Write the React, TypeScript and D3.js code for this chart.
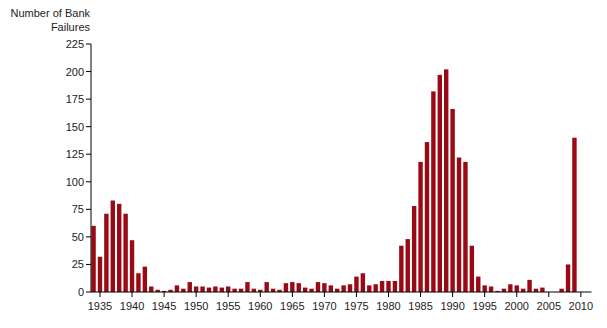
import { useEffect, useRef } from "react"
import * as d3 from "d3"

const years = d3.range(1934, 2010)
const failures = [
  60, 32, 71, 83, 80, 71, 47, 17, 23, 5, // 1934-1943
  2, 1, 2, 6, 3, 9, 5, 5, 4, 5, // 1944-1953
  4, 5, 3, 3, 9, 3, 2, 9, 3, 2, // 1954-1963
  8, 9, 8, 4, 3, 9, 8, 6, 3, 6, // 1964-1973
  7, 14, 17, 6, 7, 10, 10, 10, 42, 48, // 1974-1983
  78, 118, 136, 182, 197, 202, 166, 122, 118, 42, // 1984-1993
  14, 6, 5, 1, 3, 7, 6, 3, 11, 3, // 1994-2003
  4, 0, 0, 3, 25, 140, // 2004-2009
]
const yTicks = [0, 25, 50, 75, 100, 125, 150, 175, 200, 225]
const xTicks = d3.range(1935, 2011, 5)

const W = 607
const H = 328
const FONT = "'Liberation Sans', Arial, Helvetica, sans-serif"

export default function App() {
  const ref = useRef<SVGSVGElement>(null)

  useEffect(() => {
    const svg = d3.select(ref.current)
    svg.selectAll("*").remove()

    const x = d3.scaleLinear().domain([1933.6, 2011.66]).range([91, 591.5])
    const y = d3.scaleLinear().domain([0, 225]).range([292, 44])
    const barW = 4.4

    // bars
    svg.append("g")
      .selectAll("rect")
      .data(years.map((yr, i) => ({ yr, v: failures[i] })).filter((d) => d.v > 0))
      .enter()
      .append("rect")
      .attr("x", (d) => x(d.yr) - barW / 2)
      .attr("y", (d) => y(d.v))
      .attr("width", barW)
      .attr("height", (d) => y(0) - y(d.v))
      .attr("fill", "#990a14")

    // y axis
    const ya = svg.append("g")
    ya.append("line")
      .attr("x1", 91).attr("x2", 91)
      .attr("y1", y(225)).attr("y2", y(0))
      .attr("stroke", "#000").attr("stroke-width", 1)
    ya.selectAll(".yt")
      .data(yTicks)
      .enter()
      .append("line")
      .attr("x1", 86).attr("x2", 91)
      .attr("y1", (d) => y(d)).attr("y2", (d) => y(d))
      .attr("stroke", "#000")
    ya.selectAll(".yl")
      .data(yTicks)
      .enter()
      .append("text")
      .attr("x", 84)
      .attr("y", (d) => y(d) + 4)
      .attr("text-anchor", "end")
      .attr("font-family", FONT)
      .attr("font-size", 11)
      .attr("fill", "#222")
      .text((d) => d)

    // x axis
    const xa = svg.append("g")
    xa.append("line")
      .attr("x1", 91).attr("x2", 591.5)
      .attr("y1", 292).attr("y2", 292)
      .attr("stroke", "#000")
    xa.selectAll(".xt")
      .data(xTicks)
      .enter()
      .append("line")
      .attr("x1", (d) => x(d)).attr("x2", (d) => x(d))
      .attr("y1", 292).attr("y2", 297)
      .attr("stroke", "#000")
    xa.selectAll(".xl")
      .data(xTicks)
      .enter()
      .append("text")
      .attr("x", (d) => x(d))
      .attr("y", 310)
      .attr("text-anchor", "middle")
      .attr("font-family", FONT)
      .attr("font-size", 11)
      .attr("fill", "#222")
      .text((d) => d)

    // y title
    const title = svg.append("text")
      .attr("text-anchor", "end")
      .attr("font-family", FONT)
      .attr("font-size", 11)
      .attr("fill", "#222")
    title.append("tspan").attr("x", 90).attr("y", 17).text("Number of Bank")
    title.append("tspan").attr("x", 90).attr("y", 31).text("Failures")
  }, [])

  return (
    <div style={{ position: "absolute", left: 0, top: 0 }}>
      <svg ref={ref} width={W} height={H} style={{ display: "block", background: "#fff" }} />
    </div>
  )
}
